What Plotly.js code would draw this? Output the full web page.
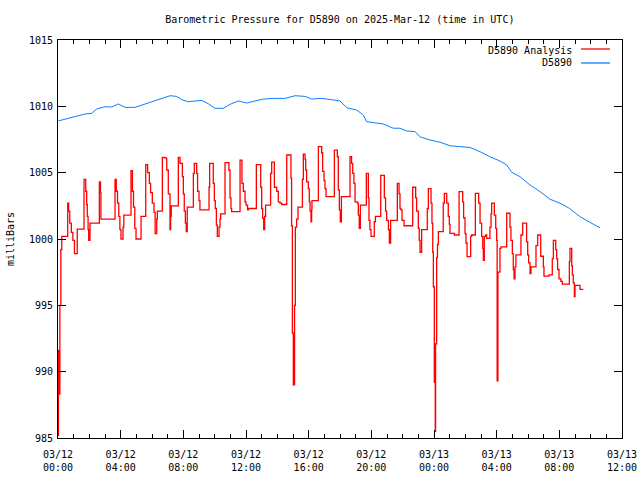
<!DOCTYPE html>
<html>
<head>
<meta charset="utf-8">
<script src="https://cdn.plot.ly/plotly-3.0.1.min.js"></script>
<style>html,body{margin:0;padding:0;background:#fff}#chart{width:640px;height:480px}</style>
</head>
<body>
<div id="chart"></div>
<script>
// Hours after 2025-03-12 00:00 UTC
const redHours = [0.00,0.03,0.06,0.12,0.18,0.24,0.62,0.68,0.75,0.85,0.95,1.05,1.23,1.66,1.77,1.83,1.87,1.92,1.96,2.04,2.64,2.71,2.74,3.64,3.72,3.80,3.88,3.95,4.02,4.15,4.20,4.66,4.75,4.82,4.90,4.98,5.30,5.60,5.72,5.83,5.91,6.02,6.13,6.20,6.30,6.34,6.66,6.83,6.94,7.04,7.15,7.19,7.23,7.68,7.79,7.94,8.00,8.06,8.13,8.19,8.25,8.64,8.70,8.85,8.91,9.00,9.06,9.64,9.68,9.91,9.98,10.04,10.11,10.17,10.28,10.34,10.38,10.66,10.91,10.98,11.04,11.08,11.62,11.74,11.83,11.94,12.00,12.10,12.15,12.66,12.94,13.00,13.06,13.13,13.19,13.25,13.57,13.64,13.81,13.96,14.06,14.17,14.28,14.60,14.87,14.91,14.96,15.02,15.10,15.15,15.23,15.32,15.60,15.66,15.77,15.81,15.87,15.98,16.04,16.09,16.15,16.19,16.21,16.62,16.83,16.89,16.98,17.04,17.11,17.64,17.83,17.89,17.96,18.02,18.09,18.64,18.74,18.81,18.89,18.96,19.11,19.17,19.23,19.30,19.68,19.81,19.85,19.91,19.98,20.19,20.26,20.60,20.83,20.91,20.98,21.09,21.15,21.23,21.66,21.77,21.83,21.89,21.96,22.09,22.64,22.83,22.89,23.00,23.06,23.11,23.21,23.57,23.64,23.81,23.87,23.92,23.96,24.02,24.08,24.10,24.17,24.22,24.28,24.59,24.66,24.81,24.91,24.98,25.02,25.30,25.60,25.83,25.89,25.98,26.04,26.11,26.34,26.40,26.64,26.85,26.94,27.04,27.11,27.15,27.21,27.30,27.36,27.57,27.64,27.68,27.85,27.94,28.00,28.03,28.08,28.21,28.28,28.64,28.85,28.91,29.00,29.06,29.11,29.17,29.23,29.55,29.66,29.91,29.98,30.04,30.13,30.19,30.51,30.62,30.81,30.98,31.02,31.34,31.55,31.62,31.77,31.83,31.89,31.98,32.10,32.19,32.64,32.68,32.79,32.83,32.89,32.96,33.00,33.32,33.53];
const redValues = [985.2,991.6,988.3,995.0,999.2,1000.2,1002.7,1002.1,1001.2,1000.5,999.9,998.9,1000.75,1004.5,1003.6,1002.6,1001.7,1000.7,999.9,1001.2,1004.3,1003.5,1001.5,1004.5,1003.6,1002.7,1001.7,1000.7,1000.0,1000.9,1001.8,1005.15,1003.6,1002.4,1000.8,1000.0,1001.7,1005.6,1005.0,1004.2,1003.5,1002.7,1002.0,1000.4,1001.5,1002.1,1006.15,1006.1,1005.2,1003.4,1000.7,1001.7,1002.5,1006.15,1005.7,1004.7,1003.4,1002.1,1001.2,1000.55,1002.4,1004.95,1005.7,1004.95,1003.6,1002.9,1002.2,1003.9,1005.7,1004.2,1002.9,1002.3,1001.05,1000.2,1000.9,1001.5,1001.9,1005.75,1005.2,1003.1,1002.3,1002.06,1005.95,1004.2,1003.6,1002.8,1002.55,1002.2,1002.3,1005.6,1003.9,1002.3,1001.55,1000.7,1001.7,1002.56,1004.95,1005.8,1003.9,1003.6,1002.8,1002.7,1002.6,1006.33,1004.57,1001.0,992.9,989.0,995.0,1000.9,1001.5,1002.4,1004.5,1006.4,1006.0,1005.2,1004.3,1003.8,1002.8,1002.1,1001.3,1002.2,1002.9,1006.96,1006.5,1005.1,1004.4,1003.8,1003.2,1006.7,1006.2,1003.7,1002.2,1001.3,1003.2,1006.2,1005.7,1004.95,1004.2,1002.8,1002.7,1001.8,1000.8,1002.56,1004.95,1003.1,1001.4,1000.7,1000.2,1001.3,1001.7,1004.8,1003.1,1002.1,1001.4,1000.7,999.7,1001.4,1004.2,1003.4,1002.3,1002.2,1001.4,1001.0,1003.9,1003.1,1002.1,1000.8,999.9,999.0,1000.7,1002.3,1003.8,1002.7,1001.2,999.0,996.4,989.2,985.5,992.1,998.6,999.6,1000.55,1002.7,1003.44,1002.7,1001.7,1001.1,1000.43,1000.3,1003.57,1002.8,1001.6,1000.4,999.7,998.67,1000.2,1000.3,1003.44,1002.7,1001.2,1000.2,999.3,998.4,1000.2,1000.3,1000.05,1000.9,1001.9,1002.7,1001.8,1000.8,999.9,989.3,997.5,999.3,999.4,1001.94,1000.9,999.9,998.9,997.7,997.0,997.9,998.8,1000.3,1001.2,999.8,998.8,998.2,997.4,997.9,999.5,1000.3,998.7,997.9,997.2,997.3,998.5,999.9,999.2,998.5,997.7,997.0,996.8,996.6,998.3,999.3,998.0,997.3,996.7,995.65,996.5,996.2,996.2];

const blueHours = [0.02,0.66,1.19,1.72,2.15,2.47,3.00,3.43,3.85,4.28,4.91,5.34,5.98,6.62,7.15,7.58,7.90,8.32,8.74,9.17,9.59,10.02,10.55,10.98,11.51,12.04,12.57,13.10,13.85,14.49,15.13,15.77,16.19,16.83,17.47,18.00,18.43,19.07,19.49,19.70,20.13,20.76,21.40,21.83,22.26,22.79,23.11,23.74,24.38,25.02,25.66,26.30,26.94,27.57,28.21,28.64,28.96,29.49,30.13,30.77,31.40,32.04,32.66,33.30,33.94,34.60];
const blueValues = [1008.9,1009.1,1009.27,1009.42,1009.47,1009.8,1009.97,1009.95,1010.18,1009.92,1009.92,1010.1,1010.35,1010.6,1010.8,1010.75,1010.5,1010.35,1010.4,1010.45,1010.2,1009.85,1009.85,1010.15,1010.4,1010.25,1010.4,1010.55,1010.6,1010.6,1010.8,1010.75,1010.55,1010.6,1010.5,1010.4,1009.9,1009.72,1009.35,1008.85,1008.77,1008.67,1008.35,1008.35,1008.14,1008.1,1007.7,1007.46,1007.3,1007.03,1006.96,1006.9,1006.58,1006.2,1005.88,1005.58,1005.03,1004.7,1004.07,1003.57,1003.0,1002.7,1002.3,1001.7,1001.26,1000.85];

const xTickVals = ['2025-03-12 00:00','2025-03-12 04:00','2025-03-12 08:00','2025-03-12 12:00','2025-03-12 16:00','2025-03-12 20:00','2025-03-13 00:00','2025-03-13 04:00','2025-03-13 08:00','2025-03-13 12:00'];
const xTickText = ['03/12<br>00:00','03/12<br>04:00','03/12<br>08:00','03/12<br>12:00','03/12<br>16:00','03/12<br>20:00','03/13<br>00:00','03/13<br>04:00','03/13<br>08:00','03/13<br>12:00'];
const yTickVals = [985,990,995,1000,1005,1010,1015];

const seriesNames = ['D5890 Analysis','D5890'];
const seriesColors = ['#ff0000','#0a80ff'];

function toDate(h){
  const ms = Date.UTC(2025,2,12) + Math.round(h*3600000);
  return new Date(ms).toISOString().replace('T',' ').replace('Z','');
}

const FONT = 'DejaVu Sans Mono, monospace';

const traces = [
  {x: redHours.map(toDate), y: redValues, type:'scatter', mode:'lines', name: seriesNames[0],
   line:{color:seriesColors[0], width:1.3, shape:'hv'}, showlegend:false},
  {x: blueHours.map(toDate), y: blueValues, type:'scatter', mode:'lines', name: seriesNames[1],
   line:{color:seriesColors[1], width:1}, showlegend:false}
];

const layout = {
  width:640, height:480,
  margin:{l:58, r:18, t:40, b:42, pad:0},
  paper_bgcolor:'#fff', plot_bgcolor:'#fff',
  font:{family:FONT, size:10, color:'#000'},
  title:{text:'Barometric Pressure for D5890 on 2025-Mar-12 (time in UTC)', x:0.531, xanchor:'center', y:0.96, yanchor:'middle', font:{family:FONT,size:10,color:'#000'}},
  xaxis:{type:'date', range:['2025-03-12 00:00','2025-03-13 12:00'],
    tickvals:xTickVals, ticktext:xTickText, ticks:'inside', ticklen:8, tickcolor:'#000', tickwidth:1,
    ticklabelstandoff:7,
    minor:{dtick:3600000, ticks:'inside', ticklen:4, tickcolor:'#000', showgrid:false},
    showline:true, linecolor:'#000', linewidth:1, mirror:'allticks', showgrid:false, zeroline:false,
    tickfont:{family:FONT,size:10,color:'#000'}, fixedrange:true},
  yaxis:{range:[985,1015], tickvals:yTickVals, ticks:'inside', ticklen:8, tickcolor:'#000', tickwidth:1,
    ticklabelstandoff:2,
    showline:true, linecolor:'#000', linewidth:1, mirror:'allticks', showgrid:false, zeroline:false,
    tickfont:{family:FONT,size:10,color:'#000'},
    title:{text:'milliBars', font:{family:FONT,size:10,color:'#000'}, standoff:12}},
  annotations:[
    {xref:'paper', yref:'paper', x:(574-58)/564, y:(438-50)/398, xanchor:'right', yanchor:'middle', showarrow:false, text:seriesNames[0], font:{family:FONT,size:10,color:'#000'}},
    {xref:'paper', yref:'paper', x:(574-58)/564, y:(438-63)/398, xanchor:'right', yanchor:'middle', showarrow:false, text:seriesNames[1], font:{family:FONT,size:10,color:'#000'}}
  ],
  shapes:[
    {type:'line', xref:'paper', yref:'paper', x0:(581-58)/564, x1:(610-58)/564, y0:(438-49)/398, y1:(438-49)/398, line:{color:seriesColors[0], width:1.3}},
    {type:'line', xref:'paper', yref:'paper', x0:(581-58)/564, x1:(610-58)/564, y0:(438-63)/398, y1:(438-63)/398, line:{color:seriesColors[1], width:1.3}}
  ]
};

Plotly.newPlot('chart', traces, layout, {displayModeBar:false, staticPlot:true});
</script>
</body>
</html>
